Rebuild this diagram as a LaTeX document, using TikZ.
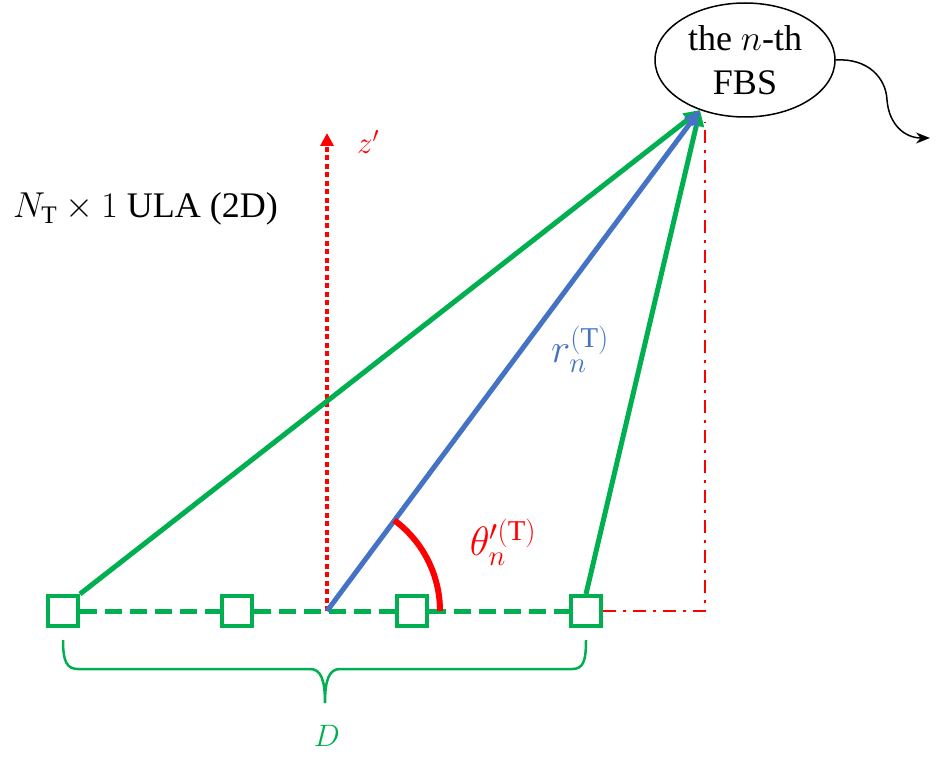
\RequirePackage{fix-cm}
\documentclass[tikz,border=0pt]{standalone}
\usepackage{fontspec}
\setmainfont{Liberation Serif}
\usetikzlibrary{arrows.meta,shapes.geometric}
\definecolor{mygreen}{HTML}{00B050}
\definecolor{myblue}{HTML}{4472C4}
\definecolor{myred}{HTML}{FF0000}
\begin{document}
\begin{tikzpicture}[x=1pt,y=-1pt,
  elem/.style={draw=mygreen,fill=white,line width=4pt,minimum size=30pt,inner sep=0pt},
  garrow/.style={draw=mygreen,line width=5pt,-{Triangle[length=16pt,width=15pt]}},
  bigtext/.style={font=\fontsize{36}{42}\selectfont},
  mathlbl/.style={font=\fontsize{31}{36}\selectfont},
  biglbl/.style={font=\fontsize{41}{46}\selectfont,inner sep=0pt}]
\useasboundingbox (0,0) rectangle (945,762);
% array elements
\node[elem] (s1) at (63,611) {};
\node[elem] (s2) at (237.3,611) {};
\node[elem] (s3) at (411.7,611) {};
\node[elem] (s4) at (586,611) {};
\coordinate (O) at (327,611);
\coordinate (ztop) at (327,133);
\coordinate (corner) at (705,611);
\coordinate (rtop) at (705,122);
% FBS ellipse
\node[draw,ellipse,line width=1.5pt,minimum width=180pt,minimum height=114pt,inner sep=0pt,
  align=center,font=\fontsize{36}{44}\selectfont] (fbs) at (745,60) {the $n$-th\\FBS};
\coordinate (tip) at (700,110);
% dashed array line
\draw[mygreen,line width=5pt,dash pattern=on 17pt off 8pt] (s1.east) -- (s2.west);
\draw[mygreen,line width=5pt,dash pattern=on 17pt off 8pt] (s2.east) -- (s3.west);
\draw[mygreen,line width=5pt,dash pattern=on 17pt off 8pt] (s3.east) -- (s4.west);
\node[elem] at (s1) {};
\node[elem] at (s2) {};
\node[elem] at (s3) {};
\node[elem] at (s4) {};
% red dash-dot projection
\draw[myred,line width=2.5pt,dash pattern=on 13pt off 7pt on 3pt off 7pt] (s4.east) -- (corner) -- (rtop);
% z' axis
\draw[myred,line width=4.5pt,dash pattern=on 5pt off 3.5pt,-{Triangle[length=13pt,width=13pt]}] (O) -- (ztop);
\node[mathlbl,text=myred] (zl) at (368,142) {$z'$};
% green rays
\draw[garrow] (s1.north east) -- (tip);
\draw[garrow] (s4.north) -- (tip);
% blue ray
\draw[myblue,line width=5pt,-{Triangle[length=16pt,width=15pt]}] (O) -- (tip);
% angle arc
\draw[myred,line width=6pt] (O) ++(0:113) arc[start angle=0,end angle=-53.4,radius=113];
% labels
\node[biglbl,text=myblue] (rl) at (580,349) {$r_n^{(\mathrm{T})}$};
\node[biglbl,text=myred] (tl) at (503,542) {$\theta_n^{\prime(\mathrm{T})}$};
\node[bigtext,anchor=base west,inner sep=0pt] (ula) at (13,218) {$N_{\mathrm{T}}\times 1$ ULA (2D)};
% brace
\draw[mygreen,line width=2.5pt] (63,640) .. controls (63,662) and (67,669) .. (78,669) -- (310,669)
  .. controls (321,669) and (325,680) .. (325,703)
  .. controls (325,680) and (329,669) .. (340,669) -- (572,669)
  .. controls (583,669) and (586,662) .. (586,640);
\node[mathlbl,text=mygreen] (dl) at (327,736) {$D$};
% curvy arrow
\draw[line width=1.5pt,-{Stealth[length=14pt,width=11pt]}] (fbs.east) .. controls (868,58) and (886,78) .. (887,100)
  .. controls (889,125) and (905,138) .. (930,138);
\end{tikzpicture}
\end{document}
